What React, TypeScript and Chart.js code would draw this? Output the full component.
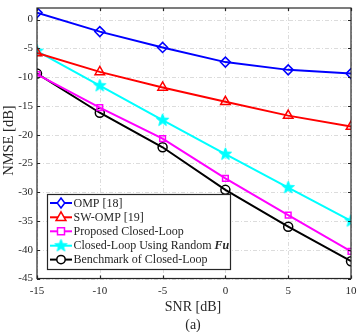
import React, { useEffect, useRef } from "react";
import { Chart, registerables } from "chart.js";
Chart.register(...registerables);

const snr = [-15, -10, -5, 0, 5, 10];
const omp = [1.2, -2.1, -4.85, -7.4, -8.75, -9.4];
const swOmp = [-5.8, -9.1, -11.8, -14.3, -16.7, -18.6];
const proposed = [-9.55, -15.3, -20.7, -27.6, -34.0, -40.3];
const randomFu = [-5.5, -11.5, -17.5, -23.4, -29.2, -35.0];
const benchmark = [-9.4, -16.2, -22.2, -29.6, -36.0, -42.0];
const yTicks = [-45, -40, -35, -30, -25, -20, -15, -10, -5, 0];
const xTicks = [-15, -10, -5, 0, 5, 10];

const FONT = "'Liberation Serif', 'Times New Roman', serif";

function starCanvas(color: string, r: number) {
  const c = document.createElement("canvas");
  const s = Math.ceil(r * 2 + 2);
  c.width = s;
  c.height = s;
  const ctx = c.getContext("2d")!;
  ctx.translate(s / 2, s / 2);
  ctx.beginPath();
  for (let i = 0; i < 10; i++) {
    const rr = i % 2 === 0 ? r : r * 0.42;
    const a = -Math.PI / 2 + (i * Math.PI) / 5;
    const x = rr * Math.cos(a);
    const y = rr * Math.sin(a);
    if (i === 0) ctx.moveTo(x, y);
    else ctx.lineTo(x, y);
  }
  ctx.closePath();
  ctx.fillStyle = color;
  ctx.fill();
  ctx.strokeStyle = color;
  ctx.lineWidth = 1;
  ctx.stroke();
  return c;
}

export default function App() {
  const ref = useRef<HTMLCanvasElement>(null);
  useEffect(() => {
    const star = starCanvas("#00ffff", 6.5);
    const series = [
      { label: "OMP [18]", data: omp, color: "#0000ff", style: "rectRot", radius: 5 },
      { label: "SW-OMP [19]", data: swOmp, color: "#ff0000", style: "triangle", radius: 5.5 },
      { label: "Proposed Closed-Loop", data: proposed, color: "#ff00ff", style: "rect", radius: 4 },
      { label: "Closed-Loop Using Random ", data: randomFu, color: "#00ffff", style: star as any, radius: 6.5 },
      { label: "Benchmark of Closed-Loop", data: benchmark, color: "#000000", style: "circle", radius: 4.5 },
    ];

    const frame = {
      id: "frame",
      beforeDatasetsDraw(chart: any) {
        const { ctx, chartArea: a, scales } = chart;
        ctx.save();
        ctx.strokeStyle = "#dcdcdc";
        ctx.lineWidth = 1;
        ctx.setLineDash([4, 2, 1, 2]);
        xTicks.forEach((v) => {
          const x = Math.round(scales.x.getPixelForValue(v)) + 0.5;
          ctx.beginPath();
          ctx.moveTo(x, a.top);
          ctx.lineTo(x, a.bottom);
          ctx.stroke();
        });
        yTicks.forEach((v) => {
          const y = Math.round(scales.y.getPixelForValue(v)) + 0.5;
          ctx.beginPath();
          ctx.moveTo(a.left, y);
          ctx.lineTo(a.right, y);
          ctx.stroke();
        });
        ctx.restore();
      },
      afterDraw(chart: any) {
        const { ctx, chartArea: a, scales } = chart;
        ctx.save();
        ctx.strokeStyle = "#262626";
        ctx.lineWidth = 1.2;
        ctx.setLineDash([]);
        ctx.strokeRect(a.left, a.top, a.right - a.left, a.bottom - a.top);
        ctx.beginPath();
        xTicks.forEach((v) => {
          const x = Math.round(scales.x.getPixelForValue(v)) + 0.5;
          ctx.moveTo(x, a.bottom);
          ctx.lineTo(x, a.bottom - 3);
          ctx.moveTo(x, a.top);
          ctx.lineTo(x, a.top + 3);
        });
        yTicks.forEach((v) => {
          const y = Math.round(scales.y.getPixelForValue(v)) + 0.5;
          ctx.moveTo(a.left, y);
          ctx.lineTo(a.left + 3, y);
          ctx.moveTo(a.right, y);
          ctx.lineTo(a.right - 3, y);
        });
        ctx.stroke();

        // tick labels
        ctx.fillStyle = "#262626";
        ctx.font = `11px ${FONT}`;
        ctx.textAlign = "right";
        ctx.textBaseline = "middle";
        yTicks.forEach((v) => {
          ctx.fillText(String(v), a.left - 4, scales.y.getPixelForValue(v));
        });
        ctx.textAlign = "center";
        ctx.textBaseline = "middle";
        xTicks.forEach((v) => {
          ctx.fillText(String(v), scales.x.getPixelForValue(v), a.bottom + 12.5);
        });

        // axis titles
        ctx.font = `14px ${FONT}`;
        ctx.textBaseline = "middle";
        ctx.fillText("SNR [dB]", (a.left + a.right) / 2 - 1, 307);
        ctx.fillText("(a)", (a.left + a.right) / 2 - 1, 325);
        ctx.save();
        ctx.translate(9, 140.6);
        ctx.rotate(-Math.PI / 2);
        ctx.font = `14.5px ${FONT}`;
        ctx.fillText("NMSE [dB]", 0, 0);
        ctx.restore();

        // legend
        const lx = 47, ly = 194, lw = 183, lh = 75;
        ctx.fillStyle = "#ffffff";
        ctx.fillRect(lx, ly, lw, lh);
        ctx.strokeStyle = "#262626";
        ctx.lineWidth = 1.2;
        ctx.strokeRect(lx + 0.5, ly + 0.5, lw, lh);
        const rows = [203, 217.3, 231.3, 245.7, 259.6];
        series.forEach((s, i) => {
          const y = rows[i];
          ctx.strokeStyle = s.color;
          ctx.lineWidth = 2;
          ctx.beginPath();
          ctx.moveTo(50, y);
          ctx.lineTo(72, y);
          ctx.stroke();
          const cx = 61;
          ctx.lineWidth = 1.5;
          ctx.beginPath();
          if (s.style === "rectRot") {
            const r = 5;
            ctx.moveTo(cx, y - r);
            ctx.lineTo(cx + r * 0.75, y);
            ctx.lineTo(cx, y + r);
            ctx.lineTo(cx - r * 0.75, y);
            ctx.closePath();
            ctx.fillStyle = "#fff";
            ctx.fill();
            ctx.stroke();
          } else if (s.style === "triangle") {
            const r = 5.5;
            ctx.moveTo(cx, y - r);
            ctx.lineTo(cx + r * 0.9, y + r * 0.6);
            ctx.lineTo(cx - r * 0.9, y + r * 0.6);
            ctx.closePath();
            ctx.fillStyle = "#fff";
            ctx.fill();
            ctx.stroke();
          } else if (s.style === "rect") {
            ctx.rect(cx - 3.5, y - 3.5, 7, 7);
            ctx.fillStyle = "#fff";
            ctx.fill();
            ctx.stroke();
          } else if (s.style === "circle") {
            ctx.arc(cx, y, 4.2, 0, Math.PI * 2);
            ctx.fillStyle = "#fff";
            ctx.fill();
            ctx.stroke();
          } else {
            ctx.drawImage(star, cx - star.width / 2, y - star.height / 2);
          }
          ctx.fillStyle = "#262626";
          ctx.font = `12px ${FONT}`;
          ctx.textAlign = "left";
          ctx.textBaseline = "middle";
          ctx.fillText(s.label, 73.5, y + 0.5);
          if (i === 3) {
            const w = ctx.measureText(s.label).width;
            ctx.font = `italic bold 12px ${FONT}`;
            ctx.fillText("Fu", 73.5 + w, y + 0.5);
          }
        });
        ctx.restore();
      },
    };

    const chart = new Chart(ref.current!, {
      type: "line",
      data: {
        labels: snr,
        datasets: series.map((s) => ({
          label: s.label,
          data: snr.map((x, i) => ({ x, y: s.data[i] })),
          borderColor: s.color,
          backgroundColor: "rgba(255,255,255,0.9)",
          borderWidth: 2,
          pointStyle: s.style as any,
          pointRadius: s.radius,
          pointBorderWidth: 1.5,
          pointBorderColor: s.color,
          pointBackgroundColor: "rgba(0,0,0,0)",
          tension: 0,
          fill: false,
        })),
      },
      options: {
        animation: false,
        responsive: false,
        maintainAspectRatio: false,
        events: [],
        layout: { padding: { top: 4, right: 9, left: 0, bottom: 0 } },
        plugins: { legend: { display: false }, tooltip: { enabled: false } },
        scales: {
          x: {
            type: "linear",
            min: -15,
            max: 10,
            grid: { display: false },
            border: { display: false },
            ticks: { display: false, stepSize: 5 },
            afterFit: (s: any) => {
              s.height = 53.5;
            },
          },
          y: {
            type: "linear",
            min: -45,
            max: 2,
            grid: { display: false },
            border: { display: false },
            ticks: { display: false, stepSize: 5 },
            afterFit: (s: any) => {
              s.width = 37;
            },
          },
        },
      },
      plugins: [frame],
    });
    return () => chart.destroy();
  }, []);

  return (
    <div style={{ position: "fixed", left: 0, top: 0, width: 360, height: 332, background: "#fff" }}>
      <canvas ref={ref} width={360} height={332} style={{ display: "block", width: 360, height: 332 }} />
    </div>
  );
}
